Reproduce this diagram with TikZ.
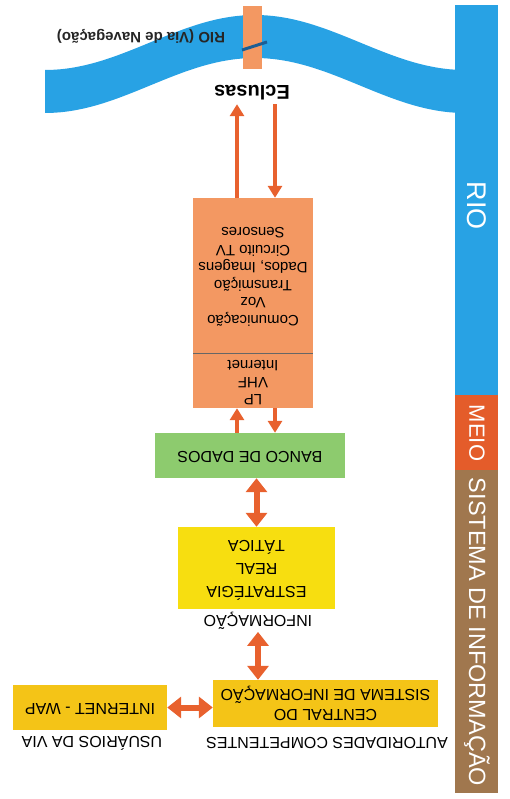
\documentclass[tikz,border=0pt]{standalone}
\usepackage{fontspec}
\setmainfont{Liberation Sans}
\usetikzlibrary{arrows.meta}

\definecolor{rioazul}{RGB}{40,162,228}
\definecolor{laranja}{RGB}{243,152,98}
\definecolor{seta}{RGB}{232,97,46}
\definecolor{meio}{RGB}{228,92,42}
\definecolor{marrom}{RGB}{160,119,78}
\definecolor{verde}{RGB}{141,203,110}
\definecolor{amarelo}{RGB}{247,222,16}
\definecolor{ouro}{RGB}{244,196,23}
\definecolor{eclusaazul}{RGB}{27,94,149}

% texto de cabeca para baixo
\newcommand{\virar}[1]{\rotatebox[origin=c]{180}{\begin{tabular}{@{}c@{}}#1\end{tabular}}}

\tikzset{
    caixa/.style={minimum width=#1, inner sep=0pt},
    rotulo/.style={font=\fontsize{16}{18}\selectfont, inner sep=2pt},
    lateral/.style={rotate=-90, text=white, font=\fontsize{22}{24}\selectfont, inner sep=0pt},
    setafina/.style={draw=seta, line width=3.5pt, -{Triangle[width=14pt,length=12pt]}},
    setadupla/.style={draw=seta, line width=6pt, {Triangle[width=21pt,length=14pt]}-{Triangle[width=21pt,length=14pt]}}
}

\begin{document}
\begin{tikzpicture}[x=1pt,y=-1pt]
        \useasboundingbox (0,0) rectangle (510,799);

        % Barra lateral
        \fill[rioazul] (455,5) rectangle (498,395);
        \fill[meio] (455,395) rectangle (498,470);
        \fill[marrom] (455,470) rectangle (498,793);
        \node[lateral, font=\fontsize{27}{29}\selectfont] (rio) at (477,206) {RIO};
        \node[lateral] (meiotxt) at (477,433) {MEIO};
        \node[lateral, font=\fontsize{23.5}{25}\selectfont] (sistema) at (477,632) {SISTEMA DE INFORMAÇÃO};

        % Rio (via de navegacao)
        \fill[rioazul] plot[domain=45:455, samples=80] (\x, {42.5-27.5*cos((\x-255)/210*180)})
            -- plot[domain=455:45, samples=80] (\x, {85.5-27.5*cos((\x-255)/210*180)}) -- cycle;
        \fill[laranja] (243,6) rectangle (262,69);
        \draw[eclusaazul, line width=3pt] (242,50) -- (267,42);
        \node[font=\fontsize{15}{17}\selectfont\bfseries, text=black!85] (via) at (141,36) {\virar{RIO (Via de Navegação)}};
        \node[font=\fontsize{20}{22}\selectfont\bfseries, inner sep=3pt] (ecl) at (252,90) {\virar{Eclusas}};

        % Meio de comunicacao
        \node[caixa=120pt, minimum height=210pt, fill=laranja] (canal) at (253,303) {};
        \draw[black!60, line width=0.5pt] (193,353) -- (313,353);
        \node[font=\fontsize{15}{17.5}\selectfont] (comun) at (253,275)
            {\virar{Comunicação\\Voz\\Transmição\\Dados, Imagens\\Circuito TV\\Sensores}};
        \node[font=\fontsize{15}{17}\selectfont] (radio) at (253,381) {\virar{LP\\VHF\\Internet}};

        \draw[setafina] ([xshift=-16pt]canal.north) -- ([xshift=-16pt]canal.north |- ecl.south);
        \draw[setafina] ([xshift=22pt]canal.north |- ecl.south) -- ([xshift=22pt]canal.north);

        % Banco de dados
        \node[caixa=190pt, minimum height=45pt, fill=verde, rotulo] (banco) at (250,455.5) {\virar{BANCO DE DADOS}};
        \draw[setafina, line width=4pt] ([xshift=-13pt]banco.north) -- ([xshift=-16pt]canal.south);
        \draw[setafina, line width=4pt] ([xshift=22pt]canal.south) -- ([xshift=25pt]banco.north);

        % Informacao
        \node[caixa=157pt, minimum height=82pt, fill=amarelo, font=\fontsize{16}{23}\selectfont] (estrat) at (256.5,568)
            {\virar{ESTRATÉGIA\\REAL\\TÁTICA}};
        \node[rotulo] (info) at (258,620) {\virar{INFORMAÇÃO}};
        \draw[setadupla] (estrat.north |- banco.south) -- (estrat.north);

        % Central e usuarios
        \node[caixa=225pt, minimum height=47pt, fill=ouro, font=\fontsize{16}{19}\selectfont] (central) at (325.5,703.5)
            {\virar{CENTRAL DO\\SISTEMA DE INFORMAÇÃO}};
        \node[rotulo] (autor) at (327,741) {\virar{AUTORIDADES COMPETENTES}};
        \node[caixa=154pt, minimum height=45pt, fill=ouro, rotulo] (usr) at (90,707.5) {\virar{INTERNET - WAP}};
        \node[rotulo] (usrtxt) at (92,741) {\virar{USUÁRIOS DA VIA}};

        \draw[setadupla] (info.south) -- (info.south |- central.north);
        \draw[setadupla] (usr.east) -- (usr.east -| central.west);

    \end{tikzpicture}
\end{document}
